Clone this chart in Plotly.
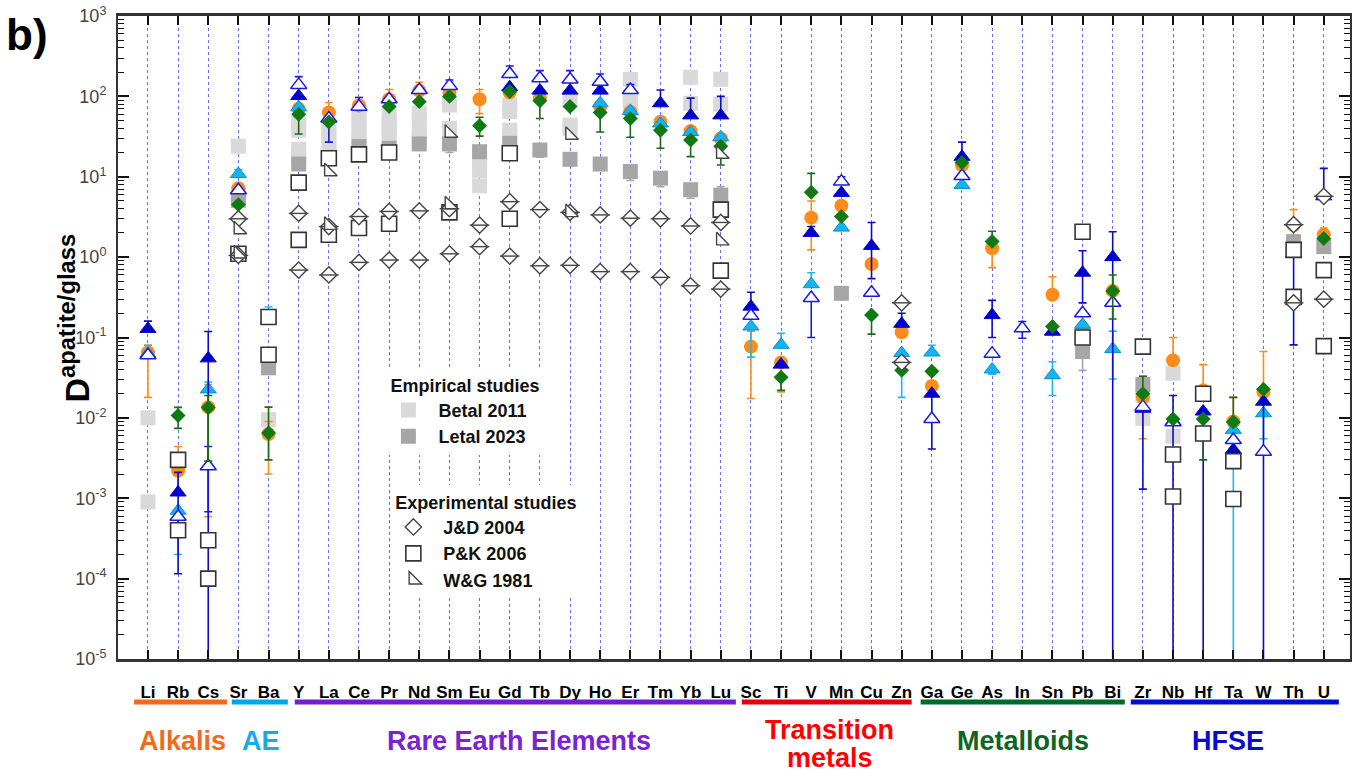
import plotly.graph_objects as go

# ---------------------------------------------------------------- data
ELEMENTS = ["Li", "Rb", "Cs", "Sr", "Ba",
            "Y", "La", "Ce", "Pr", "Nd", "Sm", "Eu", "Gd", "Tb", "Dy", "Ho", "Er", "Tm", "Yb", "Lu",
            "Sc", "Ti", "V", "Mn", "Cu", "Zn",
            "Ga", "Ge", "As", "In", "Sn", "Pb", "Bi",
            "Zr", "Nb", "Hf", "Ta", "W", "Th", "U"]

Y_TICKS = [1e-5, 1e-4, 1e-3, 1e-2, 1e-1, 1e0, 1e1, 1e2, 1e3]
Y_TICK_TEXT = ["10<sup>-5</sup>", "10<sup>-4</sup>", "10<sup>-3</sup>", "10<sup>-2</sup>",
               "10<sup>-1</sup>", "10<sup>0</sup>", "10<sup>1</sup>", "10<sup>2</sup>", "10<sup>3</sup>"]

# element groups: (label, first element, last element)
GROUP_LABELS = ["Alkalis", "AE", "Rare Earth Elements", "Transition<br>metals", "Metalloids", "HFSE"]
GROUP_FIRST = ["Li", "Sr", "Y", "Sc", "Ga", "Zr"]
GROUP_LAST = ["Cs", "Ba", "Lu", "Zn", "Bi", "U"]

# partition coefficients: element -> (D, lower bound, upper bound); 0 = bar runs off the axis
ORANGE = {
    "Li": (0.065, 0.018, 0.08), "Rb": (0.0022, 0.0011, 0.0044), "Cs": (0.0136, 0.00059, 0.026),
    "Sr": (7.2, None, None), "Ba": (0.0063, 0.002, 0.009),
    "Y": (70, None, None), "La": (63, None, 84), "Ce": (77, None, 97), "Pr": (92, None, 122),
    "Nd": (118, None, 150), "Sm": (110, None, 150), "Eu": (92, 61, 122), "Gd": (112, None, None),
    "Tb": (95, None, None), "Ho": (75, None, None), "Er": (64, None, None), "Tm": (48.5, None, None),
    "Yb": (37, None, None), "Lu": (30, None, None),
    "Sc": (0.077, 0.0174, 0.12), "Ti": (0.049, 0.021, None), "V": (3.1, 1.23, 5.0),
    "Mn": (4.36, None, None), "Cu": (0.82, None, None), "Zn": (0.116, None, None),
    "Ga": (0.025, None, None), "Ge": (14, None, None), "As": (1.29, 0.74, None),
    "Sn": (0.34, None, 0.57), "Pb": (0.13, None, None), "Bi": (0.38, None, None),
    "Zr": (0.018, 0.0055, 0.033), "Nb": (0.052, None, 0.1), "Hf": (0.022, None, 0.046),
    "Ta": (0.009, None, 0.018), "W": (0.021, None, 0.067), "Th": (2.5, None, 3.9), "U": (1.9, None, 2.3),
}
CYAN = {
    "Li": (0.063, None, 0.08), "Rb": (0.0007, 0.0002, None), "Cs": (0.0226, None, 0.028),
    "Sr": (10.8, None, 12.3), "Ba": (0.17, None, 0.24),
    "Y": (73, None, None), "Ho": (82, None, None), "Er": (66, None, None), "Tm": (46, None, None),
    "Yb": (36, None, None), "Lu": (31, None, None),
    "Sc": (0.137, 0.057, None), "Ti": (0.081, None, 0.113), "V": (0.46, None, 0.64),
    "Mn": (2.33, None, None), "Zn": (0.064, 0.018, None),
    "Ga": (0.065, None, 0.08), "Ge": (7.9, None, None), "As": (0.04, 0.035, None),
    "Sn": (0.034, 0.019, 0.05), "Pb": (0.144, None, None), "Bi": (0.072, 0.0305, 0.12),
    "Ta": (0.0071, 0, None), "W": (0.0114, 0.0055, None),
}
BLUE = {
    "Li": (0.128, None, 0.16), "Rb": (0.00118, 0.000115, 0.0021), "Cs": (0.055, 0, 0.119),
    "Y": (101, None, None), "Gd": (130, None, None), "Tb": (118, None, None), "Dy": (118, None, None),
    "Ho": (118, None, None), "Tm": (82, None, 120), "Yb": (58, None, 95), "Lu": (58, None, 100),
    "Sc": (0.242, None, 0.366), "Ti": (0.046, None, None), "V": (2.0, None, 2.4),
    "Mn": (6.3, None, None), "Cu": (1.38, 0.54, 2.7), "Zn": (0.148, None, 0.2),
    "Ga": (0.020, 0.0041, None), "Ge": (17.7, None, 27), "As": (0.19, 0.1, 0.29),
    "Sn": (0.118, None, None), "Pb": (0.64, 0.27, 1.2), "Bi": (1.0, 0, 2.07),
    "Zr": (0.013, 0.0013, None), "Nb": (0.009, 0, 0.019), "Hf": (0.012, 0, None),
    "Ta": (0.004, None, None), "W": (0.0159, 0, None), "Th": (1.1, 0.081, None), "U": (5.7, None, 12.7),
}
BLUE_OPEN = {
    "Li": (0.06, None, None), "Rb": (0.00059, None, None), "Cs": (0.0025, 0.00068, 0.0044),
    "Sr": (6.8, None, None),
    "Y": (139, None, 176), "La": (53, 27, None), "Ce": (74.5, None, 97), "Pr": (92, None, None),
    "Nd": (120, None, None), "Sm": (135, None, 160), "Gd": (190, None, 239), "Tb": (168, None, 209),
    "Dy": (162, None, 209), "Ho": (152, None, 190), "Er": (120, None, 140),
    "Sc": (0.186, None, None), "V": (0.31, 0.10, None), "Mn": (8.7, None, 10),
    "Cu": (0.36, None, None), "Ga": (0.0097, None, None), "Ge": (10.2, None, None),
    "As": (0.063, None, None), "In": (0.13, 0.098, 0.158), "Pb": (0.2, None, None),
    "Bi": (0.27, None, None), "Zr": (0.0137, None, None), "Nb": (0.0088, None, None),
    "Ta": (0.0053, None, None), "W": (0.0038, None, None),
}
GREEN = {
    "Rb": (0.0107, 0.0074, 0.0135), "Cs": (0.0135, 0.0029, 0.019), "Sr": (4.5, None, None),
    "Ba": (0.0065, 0.003, 0.0136),
    "Y": (60, 34, None), "La": (48, None, None), "Pr": (75, None, None), "Nd": (86, None, None),
    "Sm": (100, None, None), "Eu": (43, 32, 55), "Gd": (115, None, None), "Tb": (88, 53, None),
    "Dy": (75, None, None), "Ho": (63, 36, None), "Er": (53, 31, None), "Tm": (38, 22.6, None),
    "Yb": (28.7, 17.8, None), "Lu": (24, 14, None),
    "Ti": (0.032, 0.022, None), "V": (6.4, None, 11), "Mn": (3.2, None, None),
    "Cu": (0.19, 0.11, None), "Zn": (0.039, None, None),
    "Ga": (0.038, None, None), "Ge": (15, None, None), "As": (1.56, None, 2.1),
    "Sn": (0.137, None, None), "Bi": (0.38, 0.17, 0.6),
    "Zr": (0.02, None, 0.033), "Nb": (0.0097, None, None), "Hf": (0.0097, 0.003, None),
    "Ta": (0.0089, None, 0.018), "W": (0.0227, None, None), "U": (1.7, None, None),
}

# empirical studies
BETAL_2011 = {
    "Li": [0.01, 0.0009], "Sr": [24, 6], "Ba": [0.045, 0.0095],
    "Y": [46, 38, 22, 18], "La": [40, 32, 25, 20], "Ce": [62, 50, 40, 32, 27],
    "Pr": [59, 48, 38, 33], "Nd": [62, 52, 35, 30], "Sm": [78, 40, 35],
    "Eu": [17, 14, 12, 7.7], "Gd": [78, 65, 38, 32], "Dy": [90, 44, 40],
    "Er": [163, 86, 75], "Yb": [173, 82], "Lu": [163, 80],
    "Zr": [0.019, 0.0099], "Nb": [0.036, 0.0059],
}
LETAL_2023 = {
    "Sr": (5.1, None, None), "Ba": (0.042, None, None),
    "Y": (14.4, None, None), "Ce": (23.7, None, None), "Pr": (22.6, None, None),
    "Nd": (25.6, None, None), "Sm": (25.6, 20, None), "Eu": (20.5, None, None),
    "Gd": (26, None, None), "Tb": (21.5, 17.5, None), "Dy": (16.5, None, None),
    "Ho": (14.4, None, None), "Er": (11.6, 9, None), "Tm": (9.6, 7.5, None),
    "Yb": (6.9, 5.4, None), "Lu": (5.9, None, 7.5),
    "Mn": (0.355, None, None), "Pb": (0.067, 0.039, None), "Zr": (0.026, None, None),
    "Th": (1.56, None, None), "U": (1.35, None, None),
}

# experimental studies
JD_2004 = {
    "Sr": [3.0, 1.05], "Y": [3.5, 0.69], "La": [2.4, 0.6], "Ce": [3.2, 0.86], "Pr": [3.7, 0.92],
    "Nd": [3.76, 0.92], "Sm": [4.0, 1.1], "Eu": [2.5, 1.35], "Gd": [4.9, 1.03], "Tb": [3.9, 0.78],
    "Dy": [3.6, 0.79], "Ho": [3.35, 0.66], "Er": [3.05, 0.66], "Tm": [3.0, 0.56], "Yb": [2.44, 0.44],
    "Lu": [2.7, 0.40], "Zn": [0.27, 0.049], "Th": [2.53, 0.27], "U": [5.7, 0.3],
}
PK_2006 = {
    "Rb": [0.003, 0.0004], "Cs": [0.0003, 0.0001], "Sr": [1.1], "Ba": [0.18, 0.061],
    "Y": [8.45, 1.64], "La": [17, 1.9], "Ce": [19, 2.3], "Pr": [20, 2.6], "Sm": [3.6],
    "Gd": [19.6, 3.0], "Lu": [3.9, 0.68], "Pb": [2.07, 0.1], "Zr": [0.077],
    "Nb": [0.0035, 0.00105], "Hf": [0.02, 0.0064], "Ta": [0.0029, 0.00098],
    "Th": [1.23, 0.32], "U": [0.69, 0.078],
}
WG_1981 = {
    "Sr": [2.2, 1.1], "La": [11.6, 2.5], "Sm": [35, 4.5], "Dy": [33, 3.6], "Lu": [19.2, 1.6],
}

# ---------------------------------------------------------------- helpers
ARIAL = "Liberation Sans, Arial, sans-serif"


def with_errors(data):
    xs, ys, plus, minus = [], [], [], []
    for el, (v, lo, hi) in data.items():
        xs.append(el)
        ys.append(v)
        plus.append(0 if hi is None else hi - v)
        if lo is None:
            minus.append(0)
        elif lo == 0:
            minus.append(2 * v)          # runs below the bottom of the axis
        else:
            minus.append(v - lo)
    return xs, ys, plus, minus


def flatten(data):
    xs, ys = [], []
    for el, vals in data.items():
        for v in vals:
            xs.append(el)
            ys.append(v)
    return xs, ys


def err_trace(data, name, symbol, size, fill, line_color, line_width, err_color, **kw):
    xs, ys, plus, minus = with_errors(data)
    return go.Scatter(
        x=xs, y=ys, mode="markers", name=name,
        marker=dict(symbol=symbol, size=size, color=fill,
                    line=dict(color=line_color, width=line_width)),
        error_y=dict(type="data", symmetric=False, array=plus, arrayminus=minus,
                     color=err_color, thickness=1.6, width=4),
        **kw)


fig = go.Figure()

# empirical: Betal 2011 (light grey), Letal 2023 (dark grey)
bx, by = flatten(BETAL_2011)
fig.add_trace(go.Scatter(x=bx, y=by, mode="markers", name="\u00a0\u00a0Betal 2011",
                         marker=dict(symbol="square", size=15, color="#d9d9d9"),
                         legend="legend", showlegend=True))
fig.add_trace(err_trace(LETAL_2023, "\u00a0\u00a0Letal 2023", "square", 15, "#a6a6a6", "#a6a6a6", 0,
                        "#a6a6a6", legend="legend", showlegend=True))

# coloured symbols
fig.add_trace(err_trace(ORANGE, "orange", "circle", 14, "#ff8c1a", "#ff8c1a", 0, "#ff8c1a",
                        showlegend=False))
fig.add_trace(err_trace(CYAN, "cyan", "triangle-up", 14, "#14b4f0", "#0a8fd0", 1, "#20b8f0",
                        showlegend=False))
fig.add_trace(err_trace(BLUE, "blue", "triangle-up", 14, "#0000cd", "#0000cd", 1, "#0a0ad0",
                        showlegend=False))
fig.add_trace(err_trace(BLUE_OPEN, "blue open", "triangle-up", 14, "white", "#1a1ae6", 1.5, "#1a1ae6",
                        showlegend=False))
fig.add_trace(err_trace(GREEN, "green", "diamond", 11.5, "#0f7a14", "#0f7a14", 0, "#1a6a1a",
                        showlegend=False))

# experimental studies
px_, py_ = flatten(PK_2006)
fig.add_trace(go.Scatter(x=px_, y=py_, mode="markers", name="\u00a0\u00a0P&K 2006",
                         marker=dict(symbol="square", size=15, color="white",
                                     line=dict(color="#333333", width=1.6)),
                         legend="legend2", showlegend=True, legendrank=2))
jx, jy = flatten(JD_2004)
fig.add_trace(go.Scatter(x=jx, y=jy, mode="markers", name="\u00a0\u00a0J&D 2004",
                         marker=dict(symbol="diamond", size=12.5, color="white",
                                     line=dict(color="#444444", width=1.4)),
                         legend="legend2", showlegend=True, legendrank=1))
fig.add_trace(go.Scatter(x=jx, y=jy, mode="markers", showlegend=False,
                         marker=dict(symbol="line-ew", size=14, color="#444444",
                                     line=dict(color="#444444", width=1.4))))
wx, wy = flatten(WG_1981)
fig.add_trace(go.Scatter(x=wx, y=wy, mode="markers", name="\u00a0\u00a0W&G 1981",
                         marker=dict(symbol="triangle-sw", size=14, color="white",
                                     line=dict(color="#444444", width=1.4)),
                         legend="legend2", showlegend=True, legendrank=3))

# ---------------------------------------------------------------- axes
minor_vals = [m * 10.0 ** k for k in range(-5, 3) for m in range(2, 10)]

fig.update_xaxes(
    type="category", categoryorder="array", categoryarray=ELEMENTS,
    tickvals=ELEMENTS, ticktext=ELEMENTS, tickangle=0,
    range=[-0.993, 39.87],
    showgrid=True, gridcolor="#6a6aff", gridwidth=1, griddash="dot",
    showline=True, linecolor="#333333", linewidth=2.5, mirror="allticks",
    ticks="inside", ticklen=9, tickwidth=2, tickcolor="#111111",
    ticklabelstandoff=16,
    tickfont=dict(family=ARIAL, size=17, color="#000000", weight="bold"),
    zeroline=False,
)
fig.update_yaxes(
    type="log", range=[-5, 3],
    tickvals=Y_TICKS, ticktext=Y_TICK_TEXT,
    showgrid=False, zeroline=False,
    showline=True, linecolor="#333333", linewidth=2, mirror="allticks",
    ticks="inside", ticklen=11, tickwidth=1.5, tickcolor="#111111",
    ticklabelstandoff=6,
    tickfont=dict(family=ARIAL, size=18, color="#444444"),
    minor=dict(tickvals=minor_vals, ticks="inside", ticklen=6, tickwidth=1.2,
               tickcolor="#111111", showgrid=False),
)

# ---------------------------------------------------------------- group bars and labels
BAR_COLORS = ["#f06a1a", "#00a8e8", "#7020d0", "#e00010", "#006a2a", "#0010d0"]
TEXT_COLORS = ["#f26a1c", "#16aaea", "#7a22d4", "#ff0000", "#0d6424", "#0a0ad2"]
PAD_LEFT = [0.46, 0.22, 0.13, 0.3, 0.37, 0.4]
PAD_RIGHT = [0.62, 0.64, 0.5, 0.33, 0.4, 0.5]
LABEL_SHIFT = [0.05, 0.03, 0.13, 0.1, 0.0, -0.23]

shapes = []
annotations = []
for i, label in enumerate(GROUP_LABELS):
    a = ELEMENTS.index(GROUP_FIRST[i]) - PAD_LEFT[i]
    b = ELEMENTS.index(GROUP_LAST[i]) + PAD_RIGHT[i]
    shapes.append(dict(type="line", xref="x", yref="paper", x0=a, x1=b, y0=-0.0669, y1=-0.0669,
                       line=dict(color=BAR_COLORS[i], width=5)))
    lines = label.split("<br>")
    y0 = -0.1275 if len(lines) == 1 else -0.1104
    for k, part in enumerate(lines):
        annotations.append(dict(xref="x", yref="paper", x=(a + b) / 2 + LABEL_SHIFT[i],
                                y=y0 - 0.0436 * k, text=part, showarrow=False,
                                xanchor="center", yanchor="middle",
                                font=dict(family=ARIAL, size=27, color=TEXT_COLORS[i], weight="bold")))

annotations.append(dict(xref="paper", yref="paper", x=-0.0735, y=0.972, text="b)", showarrow=False,
                        xanchor="center", yanchor="middle",
                        font=dict(family=ARIAL, size=44, color="#000000", weight="bold")))
annotations.append(dict(xref="paper", yref="paper", x=-0.0355, y=0.530,
                        text="D<sup>apatite/glass</sup>", textangle=-90, showarrow=False,
                        xanchor="center", yanchor="middle",
                        font=dict(family=ARIAL, size=34, color="#000000", weight="bold")))

fig.update_layout(
    width=1356, height=776,
    margin=dict(l=118, r=4, t=16, b=117),
    paper_bgcolor="white", plot_bgcolor="white",
    shapes=shapes, annotations=annotations,
    legend=dict(x=0.2195, y=0.452, xanchor="left", yanchor="top",
                bgcolor="white", borderwidth=0, itemsizing="trace",
                title=dict(text="Empirical studies", font=dict(family=ARIAL, size=18, weight="bold", color="#111")),
                font=dict(family=ARIAL, size=18, color="#111111", weight="bold")),
    legend2=dict(x=0.2235, y=0.270, xanchor="left", yanchor="top",
                 bgcolor="white", borderwidth=0, itemsizing="trace", traceorder="normal",
                 title=dict(text="Experimental studies", font=dict(family=ARIAL, size=18, weight="bold", color="#111")),
                 font=dict(family=ARIAL, size=18, color="#111111", weight="bold")),
)

fig.write_html("out.html")
